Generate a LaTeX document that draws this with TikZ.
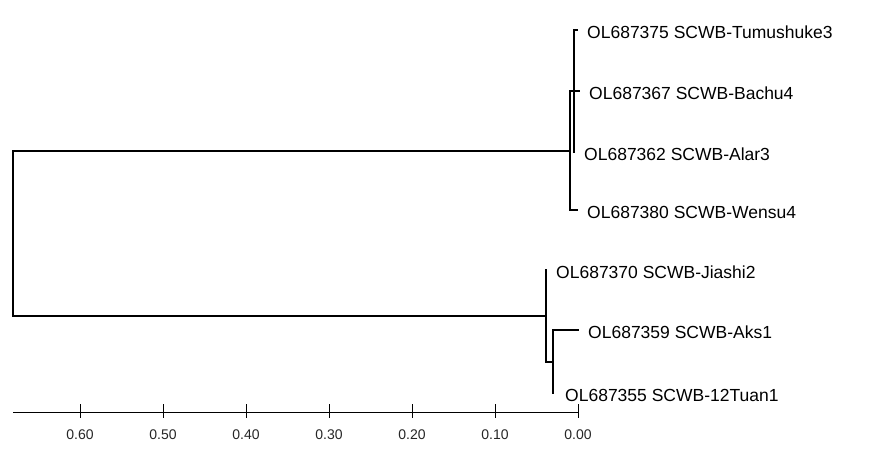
\documentclass[tikz,border=0pt]{standalone}
\usepackage{fontspec}
\setmainfont{Liberation Sans}
\usetikzlibrary{positioning}

\begin{document}
\begin{tikzpicture}[x=1pt, y=-1pt,
  branch/.style={draw=black, line width=2pt, line cap=rect},
  taxon/.style={font=\fontsize{17.5}{20}\selectfont, inner sep=1pt, anchor=west, yshift=-2pt},
  axis/.style={draw=black, line width=1pt},
  tick/.style={draw=black, line width=1pt},
  scalelbl/.style={font=\fontsize{14}{16}\selectfont, text=black!85, inner sep=0pt}]
  \useasboundingbox (0,0) rectangle (886,457);
  % leaf tips
  \coordinate (tu) at (577,30);
  \coordinate (ba) at (579,91);
  \coordinate (al) at (574,152);
  \coordinate (we) at (577,210);
  \coordinate (ji) at (546,270);
  \coordinate (ak) at (578,330);
  \coordinate (tn) at (553,393);
  % inner nodes
  \coordinate (u2) at (574,91);
  \coordinate (u1) at (570,151);
  \coordinate (l2) at (553,362);
  \coordinate (l1) at (546,316);
  \coordinate (root) at (13,233.5);
  % branches
  \draw[branch] (root) |- (u1);
  \draw[branch] (root) |- (l1);
  \draw[branch] (u1) |- (u2);
  \draw[branch] (u1) |- (we);
  \foreach \n in {tu,ba,al} {\draw[branch] (u2) |- (\n);}
  \draw[branch] (l1) |- (ji);
  \draw[branch] (l1) |- (l2);
  \draw[branch] (l2) |- (ak);
  \draw[branch] (l2) |- (tn);
  % taxa
  \node[taxon, right=9pt of tu] (tuL) {OL687375 SCWB-Tumushuke3};
  \node[taxon, right=9pt of ba] (baL) {OL687367 SCWB-Bachu4};
  \node[taxon, right=9pt of al] (alL) {OL687362 SCWB-Alar3};
  \node[taxon, right=9pt of we] (weL) {OL687380 SCWB-Wensu4};
  \node[taxon, right=9pt of ji] (jiL) {OL687370 SCWB-Jiashi2};
  \node[taxon, right=9pt of ak] (akL) {OL687359 SCWB-Aks1};
  \node[taxon, right=11pt of tn] (tnL) {OL687355 SCWB-12Tuan1};
  % scale
  \coordinate (axL) at (13,412);
  \coordinate (axR) at (578,412);
  \draw[axis] (axL) -- (axR);
  \foreach \t [count=\i from 0] in {0.00,0.10,0.20,0.30,0.40,0.50,0.60} {
    \draw[tick] ({578-83*\i},404) -- ++(0,14);
    \node[scalelbl] (s\i) at ({578-83*\i},435) {\t};
  }
\end{tikzpicture}
\end{document}
